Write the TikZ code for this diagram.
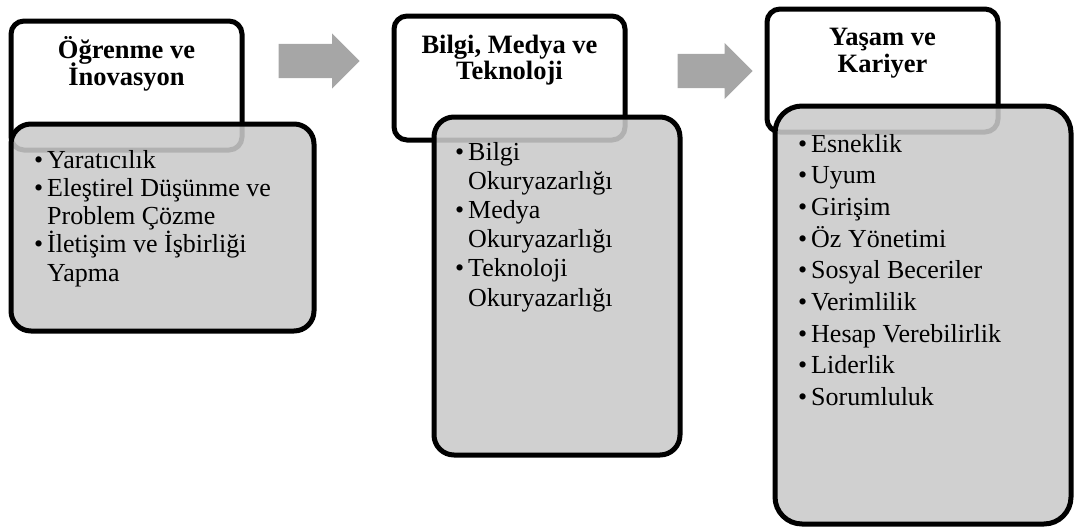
\documentclass[tikz,border=0pt]{standalone}
\usepackage{fontspec}
\setmainfont{Liberation Serif}
\usetikzlibrary{shapes.arrows}
\definecolor{boxgray}{RGB}{202,202,202}
\definecolor{arrowgray}{RGB}{166,166,166}
\newcommand{\bul}{\llap{\textbullet\hspace{4pt}}}

\begin{document}
\begin{tikzpicture}[x=1pt, y=-1pt,
    headbox/.style={draw, line width=5pt, rounded corners=13pt, fill=white, inner sep=0pt},
    listbox/.style={draw, line width=5pt, rounded corners=20pt, fill=boxgray, fill opacity=0.88, inner sep=0pt},
    blockarrow/.style={single arrow, fill=arrowgray, draw=none, inner xsep=0pt, inner ysep=17pt, anchor=tip},
    headtext/.style={font=\fontsize{26.5}{26.5}\selectfont\bfseries, anchor=base, inner sep=0pt},
    itemtext/.style={font=\fontsize{26}{29}\selectfont, anchor=base west, inner sep=0pt}]
    \useasboundingbox (0,0) rectangle (1075,530);

    % Ogrenme ve Inovasyon
    \node[headbox, minimum width=231pt, minimum height=129pt] (head1) at (126.5,85.5) {};
    \node[listbox, minimum width=303pt, minimum height=207pt] (list1) at (162.5,227.5) {};
    \node[headtext] (title1a) at (126.5,58) {Öğrenme ve};
    \node[headtext] (title1b) at (126.5,85) {İnovasyon};
    \foreach \t [count=\i from 0] in {\bul Yaratıcılık, \bul Eleştirel Düşünme ve,
        Problem Çözme, \bul İletişim ve İşbirliği, Yapma}
      \node[itemtext] (item1-\i) at (47,{168+28.3*\i}) {\t};

    % Bilgi, Medya ve Teknoloji
    \node[headbox, minimum width=231pt, minimum height=124pt] (head2) at (509.5,78) {};
    \node[listbox, minimum width=246pt, minimum height=338pt] (list2) at (557,286) {};
    \node[headtext] (title2a) at (509.5,53) {Bilgi, Medya ve};
    \node[headtext] (title2b) at (509.5,79) {Teknoloji};
    \foreach \t [count=\i from 0] in {\bul Bilgi, Okuryazarlığı, \bul Medya,
        Okuryazarlığı, \bul Teknoloji, Okuryazarlığı}
      \node[itemtext] (item2-\i) at (468,{160+29.2*\i}) {\t};

    % Yasam ve Kariyer
    \node[headbox, minimum width=231pt, minimum height=123pt] (head3) at (882.5,70.5) {};
    \node[listbox, rounded corners=27pt, minimum width=296pt, minimum height=418pt] (list3) at (923,315) {};
    \node[headtext] (title3a) at (882.5,45) {Yaşam ve};
    \node[headtext] (title3b) at (882.5,72) {Kariyer};
    \foreach \t [count=\i from 0] in {Esneklik, Uyum, Girişim, Öz Yönetimi, Sosyal Beceriler,
        Verimlilik, Hesap Verebilirlik, Liderlik, Sorumluluk}
      \node[itemtext] (item3-\i) at (811,{152+31.7*\i}) {\bul\t};

    % arrows between the groups
    \node[blockarrow, minimum height=81pt, single arrow head extend=10.5pt] (arrow1) at (360,61) {};
    \node[blockarrow, minimum height=75pt, single arrow head extend=11pt] (arrow2) at (753,71) {};
\end{tikzpicture}
\end{document}
